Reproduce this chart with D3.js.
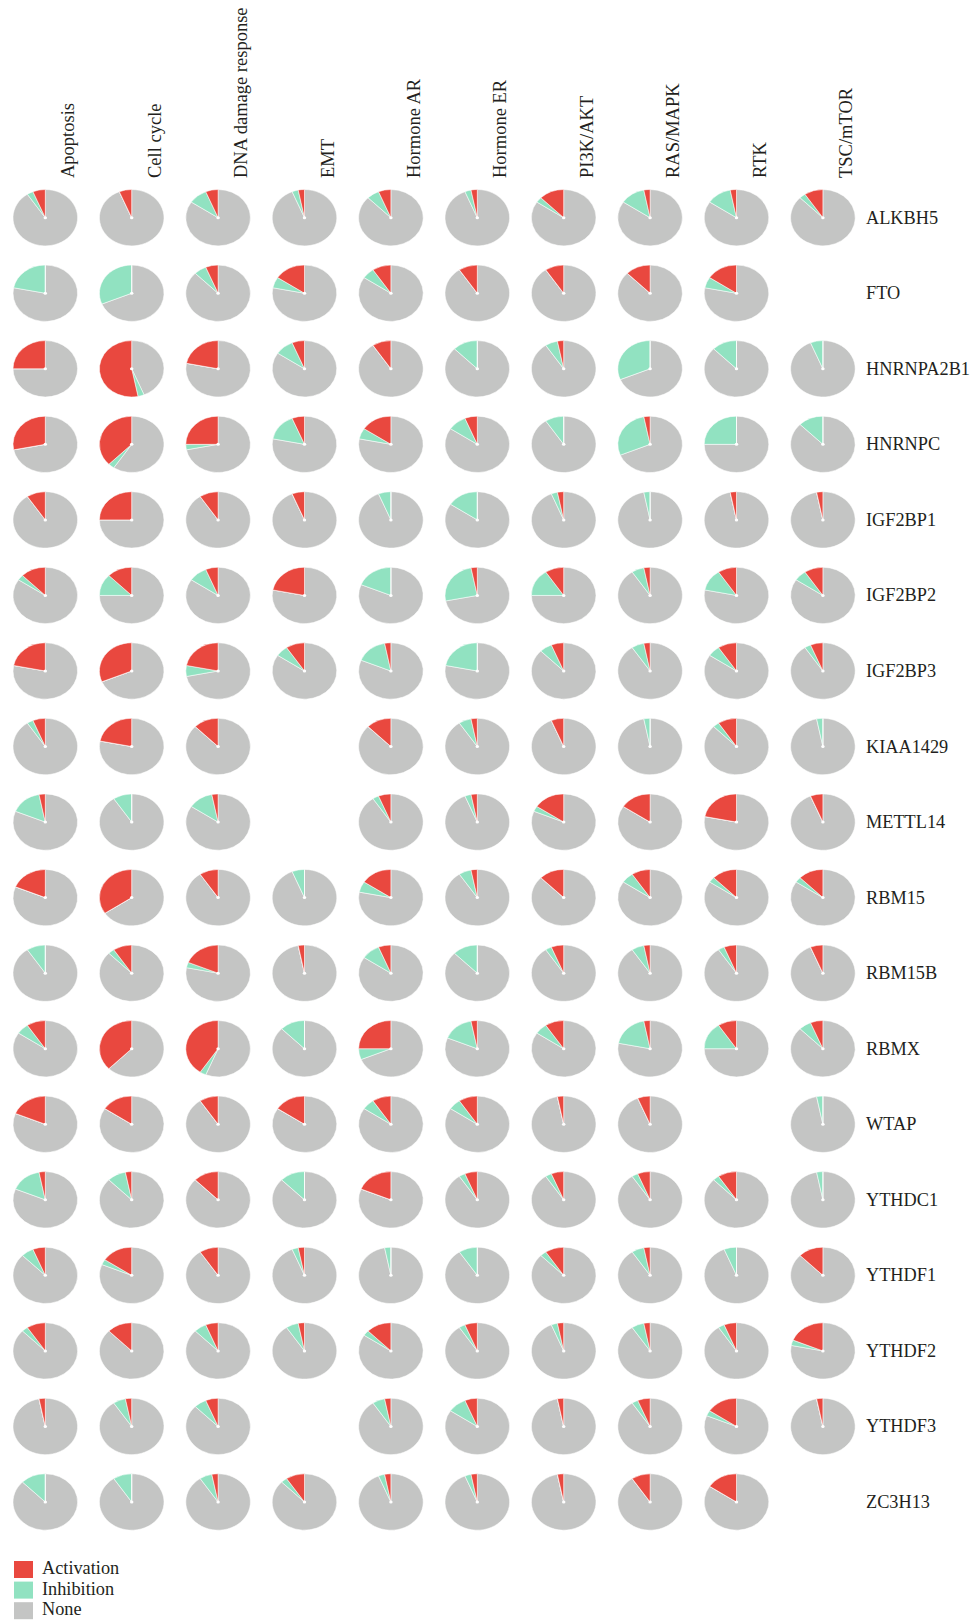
<!DOCTYPE html>
<html>
<head>
<meta charset="utf-8">
<script src="https://cdn.jsdelivr.net/npm/d3@7"></script>
<style>
  html, body { margin: 0; padding: 0; background: #fff; }
  svg { display: block; }
  text { font-family: "Liberation Serif", "Times New Roman", serif; fill: #231f20; }
</style>
</head>
<body>
<svg id="chart" width="974" height="1623"></svg>
<script>
// Pathways (columns) and m6A regulator genes (rows)
const pathways = ["Apoptosis", "Cell cycle", "DNA damage response", "EMT", "Hormone AR",
  "Hormone ER", "PI3K/AKT", "RAS/MAPK", "RTK", "TSC/mTOR"];
const genes = ["ALKBH5", "FTO", "HNRNPA2B1", "HNRNPC", "IGF2BP1", "IGF2BP2", "IGF2BP3",
  "KIAA1429", "METTL14", "RBM15", "RBM15B", "RBMX", "WTAP", "YTHDC1", "YTHDF1",
  "YTHDF2", "YTHDF3", "ZC3H13"];
const statusLabels = ["Activation", "Inhibition", "None"];
const totalCancers = 32;

// Number of cancer types with pathway activation per gene (null = not shown)
const activation = [
  [2, 2, 2, 1, 2, 1, 4, 1, 1, 3],
  [0, 0, 2, 5, 3, 3, 3, 4, 5, null],
  [8, 17, 7, 2, 3, 0, 1, 0, 0, 0],
  [9, 12, 8, 2, 5, 2, 0, 1, 0, 0],
  [3, 8, 3, 2, 0, 0, 1, 0, 1, 1],
  [4, 4, 2, 7, 0, 1, 3, 1, 3, 3],
  [7, 10, 7, 3, 1, 0, 2, 1, 3, 2],
  [2, 7, 4, null, 4, 1, 2, 0, 3, 0],
  [1, 0, 1, null, 2, 1, 5, 5, 7, 2],
  [6, 11, 3, 0, 5, 1, 4, 3, 4, 4],
  [0, 3, 6, 1, 2, 0, 2, 1, 2, 2],
  [3, 12, 13, 0, 8, 1, 3, 1, 3, 2],
  [6, 5, 3, 5, 3, 3, 1, 2, null, 0],
  [1, 1, 4, 0, 6, 2, 2, 2, 3, 0],
  [2, 5, 3, 1, 0, 0, 3, 1, 0, 4],
  [3, 4, 2, 1, 4, 2, 1, 1, 2, 6],
  [1, 1, 2, null, 1, 2, 1, 2, 5, 1],
  [0, 0, 1, 3, 1, 1, 1, 3, 5, null]
];

// Number of cancer types with pathway inhibition per gene
const inhibition = [
  [1, 0, 3, 1, 2, 1, 1, 4, 4, 1],
  [7, 10, 2, 2, 2, 0, 0, 0, 2, null],
  [0, 1, 0, 3, 0, 4, 2, 10, 4, 2],
  [0, 1, 1, 5, 2, 3, 3, 9, 8, 4],
  [0, 0, 0, 0, 2, 5, 1, 1, 0, 0],
  [1, 4, 3, 0, 6, 8, 5, 2, 4, 2],
  [0, 0, 2, 2, 5, 7, 2, 2, 2, 1],
  [1, 0, 0, null, 0, 2, 0, 1, 1, 1],
  [5, 3, 4, null, 1, 1, 1, 0, 0, 0],
  [0, 0, 0, 2, 2, 2, 0, 2, 1, 1],
  [3, 1, 1, 0, 3, 4, 1, 2, 1, 0],
  [2, 0, 1, 4, 2, 5, 2, 6, 5, 2],
  [0, 0, 0, 0, 2, 2, 0, 0, null, 1],
  [5, 3, 0, 4, 0, 1, 1, 1, 1, 1],
  [2, 1, 0, 1, 1, 3, 1, 2, 2, 0],
  [1, 0, 2, 2, 1, 1, 1, 2, 1, 1],
  [0, 2, 2, null, 2, 3, 0, 1, 1, 0],
  [4, 3, 2, 1, 1, 1, 0, 0, 0, null]
];

const colors = { Activation: "#e9483f", Inhibition: "#91e2c1", None: "#c4c5c4" };

const svg = d3.select("#chart");

const x = d3.scalePoint().domain(pathways).range([45.3, 822.9]);
const y = d3.scalePoint().domain(genes).range([217.7, 1502]);

// Pies are drawn as circles then stretched horizontally into ellipses
const radius = 28.2;
const stretchX = 32.3 / 28.2;

const arc = d3.arc().innerRadius(0).outerRadius(radius);
// Order clockwise from 12 o'clock: None, Inhibition, Activation (activation ends at the top)
const pie = d3.pie().sort(null).value(d => d.value);

const cells = [];
genes.forEach((g, r) => {
  pathways.forEach((p, c) => {
    const a = activation[r][c], inh = inhibition[r][c];
    if (a === null || inh === null) return;
    cells.push({
      gene: g, pathway: p,
      parts: [
        { key: "None", value: totalCancers - a - inh },
        { key: "Inhibition", value: inh },
        { key: "Activation", value: a }
      ]
    });
  });
});

const pieG = svg.append("g").attr("class", "pies")
  .selectAll("g.cell")
  .data(cells)
  .join("g")
  .attr("class", "cell")
  .attr("transform", d => `translate(${x(d.pathway)},${y(d.gene)}) scale(${stretchX},1)`);

pieG.selectAll("path")
  .data(d => pie(d.parts))
  .join("path")
  .attr("d", arc)
  .attr("fill", d => colors[d.data.key])
  .attr("stroke", "#ffffff")
  .attr("stroke-width", 0.5)
  .attr("stroke-linejoin", "round");

pieG.append("circle")
  .attr("r", 1.5)
  .attr("fill", "#ffffff");

// Column headers, rotated to read bottom-to-top
svg.append("g").attr("class", "col-labels")
  .selectAll("text")
  .data(pathways)
  .join("text")
  .attr("transform", d => `translate(${x(d) + 29},178) rotate(-90)`)
  .attr("text-anchor", "start")
  .attr("font-size", 18.5)
  .text(d => d);

// Row labels
svg.append("g").attr("class", "row-labels")
  .selectAll("text")
  .data(genes)
  .join("text")
  .attr("x", 866)
  .attr("y", d => y(d) + 6)
  .attr("font-size", 18.3)
  .text(d => d);

// Legend
const legend = svg.append("g").attr("class", "legend")
  .selectAll("g")
  .data(statusLabels)
  .join("g")
  .attr("transform", (d, i) => `translate(14,${1561 + i * 20.6})`);

legend.append("rect")
  .attr("width", 19)
  .attr("height", 17)
  .attr("fill", d => colors[d]);

legend.append("text")
  .attr("x", 28)
  .attr("y", 13)
  .attr("font-size", 18.3)
  .text(d => d);
</script>
</body>
</html>
